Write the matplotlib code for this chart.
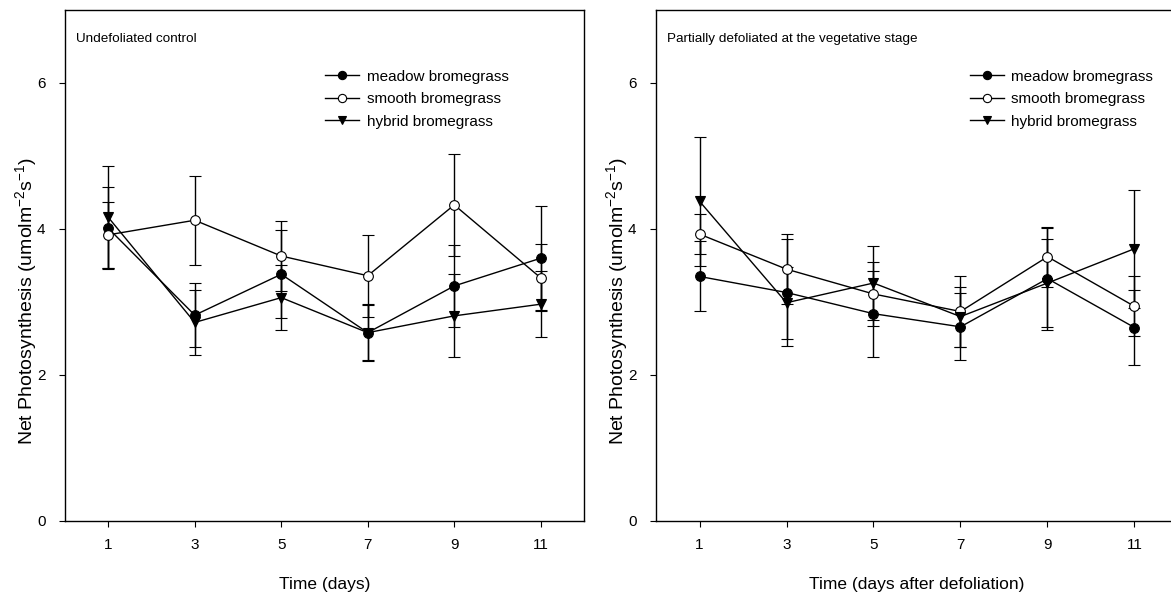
import matplotlib.pyplot as plt

plt.rcParams['font.family'] = ['Liberation Sans', 'DejaVu Sans']
plt.rcParams['mathtext.default'] = 'regular'

days = [1, 3, 5, 7, 9, 11]
species = ['meadow bromegrass', 'smooth bromegrass', 'hybrid bromegrass']

# undefoliated control
ctrl_meadow = [4.01, 2.82, 3.38, 2.58, 3.22, 3.60]
ctrl_meadow_err = [0.56, 0.44, 0.60, 0.39, 0.56, 0.71]
ctrl_smooth = [3.92, 4.12, 3.63, 3.36, 4.33, 3.33]
ctrl_smooth_err = [0.45, 0.61, 0.48, 0.56, 0.70, 0.46]
ctrl_hybrid = [4.16, 2.72, 3.06, 2.58, 2.81, 2.97]
ctrl_hybrid_err = [0.70, 0.44, 0.45, 0.38, 0.57, 0.45]

# partially defoliated at vegetative stage
defol_meadow = [3.35, 3.13, 2.84, 2.66, 3.32, 2.65]
defol_meadow_err = [0.48, 0.73, 0.59, 0.46, 0.70, 0.51]
defol_smooth = [3.93, 3.45, 3.11, 2.87, 3.62, 2.94]
defol_smooth_err = [0.27, 0.48, 0.44, 0.48, 0.41, 0.41]
defol_hybrid = [4.38, 2.99, 3.26, 2.80, 3.26, 3.73]
defol_hybrid_err = [0.88, 0.49, 0.51, 0.41, 0.60, 0.81]

styles = [
    dict(marker='o', mfc='black', mec='black'),
    dict(marker='o', mfc='white', mec='black'),
    dict(marker='v', mfc='black', mec='black'),
]

W, H = 1171, 606
fig = plt.figure(figsize=(W / 100, H / 100), dpi=100)


def px_axes(x0, y0, x1, y1):
    return fig.add_axes([x0 / W, 1 - y1 / H, (x1 - x0) / W, (y1 - y0) / H])


def panel(ax, series, title, xlabel, leg_x, ylab_x):
    handles = []
    for (vals, errs), name, st in zip(series, species, styles):
        c = ax.errorbar(days, vals, yerr=errs, color='black', lw=1.0, elinewidth=1.0,
                        capsize=4, capthick=1.0, markersize=7, mew=0.8, label=name, **st)
        handles.append(c[0])
    ax.set_xlim(0, 12)
    ax.set_ylim(0, 7)
    ax.set_xticks(days)
    ax.set_yticks([0, 2, 4, 6])
    ax.tick_params(direction='out', length=4, width=0.8, labelsize=11, pad=8)
    ax.tick_params(axis='y', pad=10)
    for s in ax.spines.values():
        s.set_linewidth(1.0)
    ax.set_xlabel(xlabel, fontsize=12.5, labelpad=18)
    ax.set_ylabel('Net Photosynthesis (umolm$^{-2}$s$^{-1}$)', fontsize=14)
    ax.yaxis.set_label_coords(ylab_x, 0.43)
    ax.text(0.022, 0.955, title, transform=ax.transAxes, fontsize=9.7, va='top', ha='left')
    ax.legend(handles=handles, labels=species, loc='upper left',
              bbox_to_anchor=(leg_x, 0.895), frameon=False,
              fontsize=11, handlelength=2.2, handletextpad=0.5, labelspacing=0.55,
              borderaxespad=0, markerscale=0.85)


ax1 = px_axes(65, 10, 584, 521)
panel(ax1, [(ctrl_meadow, ctrl_meadow_err), (ctrl_smooth, ctrl_smooth_err),
            (ctrl_hybrid, ctrl_hybrid_err)],
      'Undefoliated control', 'Time (days)', 0.49, -0.05)

ax2 = px_axes(656, 10, 1178, 521)
panel(ax2, [(defol_meadow, defol_meadow_err), (defol_smooth, defol_smooth_err),
            (defol_hybrid, defol_hybrid_err)],
      'Partially defoliated at the vegetative stage', 'Time (days after defoliation)',
      0.59, -0.05)

fig.savefig('out.png', dpi=100)
